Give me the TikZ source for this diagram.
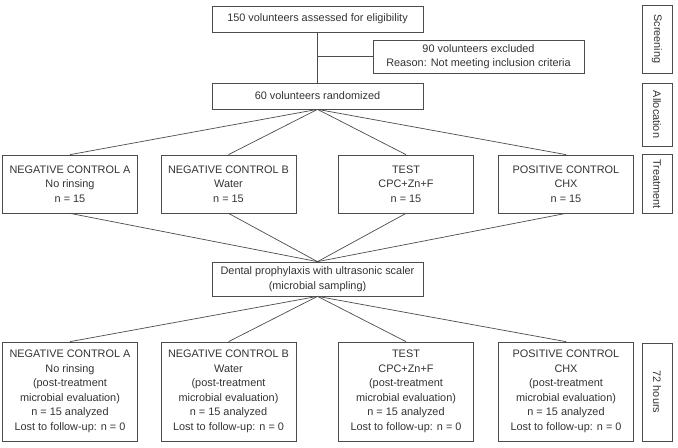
\documentclass[tikz,border=0pt]{standalone}
\usepackage{fontspec}
\setmainfont{Liberation Sans}
\usepackage{tikz}
\usepackage{xcolor}
\usetikzlibrary{shapes.geometric}
\tikzstyle{wide} = [rectangle, minimum width=6.33cm, inner sep=0pt, text centered, draw=black!70, line width=0.6pt, text=black!80]
\tikzstyle{group} = [rectangle, minimum width=4.05cm, inner sep=0pt, text centered, draw=black!70, line width=0.6pt, text=black!80]
\tikzstyle{phase} = [rectangle, rotate=-90, minimum height=0.9cm, inner sep=0pt, text centered, draw=black!70, line width=0.6pt, text=black!80]
\tikzstyle{line} = [draw=black!70, line width=0.6pt]

\begin{document}
\begin{tikzpicture}[x=0.03cm, y=-0.03cm, font=\fontsize{9.3}{12.4}\selectfont]
    \useasboundingbox (0,0) rectangle (678,447);

    \node (eligible) [wide, minimum height=0.78cm, align=center] at (317.5,19) {150 volunteers assessed for eligibility};
    \node (excluded) [wide, minimum height=0.99cm, align=center] at (478.5,56.5) {90 volunteers excluded \\ Reason: Not meeting inclusion criteria};
    \node (randomized) [wide, minimum height=0.78cm, align=center] at (317.5,96) {60 volunteers randomized};

    \node (neg_a) [group, minimum height=1.74cm, align=center] at (70,184) {NEGATIVE CONTROL A \\ No rinsing \\ n = 15};
    \node (neg_b) [group, minimum height=1.74cm, align=center] at (228.5,184) {NEGATIVE CONTROL B \\ Water \\ n = 15};
    \node (test) [group, minimum height=1.74cm, align=center] at (406,184) {TEST \\ CPC+Zn+F \\ n = 15};
    \node (pos) [group, minimum height=1.74cm, align=center] at (566,184) {POSITIVE CONTROL \\ CHX \\ n = 15};

    \node (prophylaxis) [wide, minimum height=1.02cm, align=center] at (317.5,279) {Dental prophylaxis with ultrasonic scaler \\ (microbial sampling)};

    \node (neg_a_72) [group, minimum height=2.97cm, align=center] at (70,391.5) {NEGATIVE CONTROL A \\ No rinsing \\ (post-treatment \\ microbial evaluation) \\ n = 15 analyzed \\ Lost to follow-up: n = 0};
    \node (neg_b_72) [group, minimum height=2.97cm, align=center] at (228.5,391.5) {NEGATIVE CONTROL B \\ Water \\ (post-treatment \\ microbial evaluation) \\ n = 15 analyzed \\ Lost to follow-up: n = 0};
    \node (test_72) [group, minimum height=2.97cm, align=center] at (406,391.5) {TEST \\ CPC+Zn+F \\ (post-treatment \\ microbial evaluation) \\ n = 15 analyzed \\ Lost to follow-up: n = 0};
    \node (pos_72) [group, minimum height=2.97cm, align=center] at (566,391.5) {POSITIVE CONTROL \\ CHX \\ (post-treatment \\ microbial evaluation) \\ n = 15 analyzed \\ Lost to follow-up: n = 0};

    \node (screening) [phase, minimum width=2.04cm] at (657,39) {Screening};
    \node (allocation) [phase, minimum width=1.89cm] at (657,114.5) {Allocation};
    \node (treatment) [phase, minimum width=1.77cm] at (657,184) {Treatment};
    \node (hours) [phase, minimum width=2.94cm] at (657,392) {72 hours};

    \draw [line] (eligible) -- (randomized);
    \draw [line] (excluded.west) -- (excluded.west -| eligible.south);
    \draw [line] (randomized.south) -- (neg_a.north);
    \draw [line] (randomized.south) -- (neg_b.north);
    \draw [line] (randomized.south) -- (test.north);
    \draw [line] (randomized.south) -- (pos.north);
    \draw [line] (neg_a.south) -- (prophylaxis.north);
    \draw [line] (neg_b.south) -- (prophylaxis.north);
    \draw [line] (test.south) -- (prophylaxis.north);
    \draw [line] (pos.south) -- (prophylaxis.north);
    \draw [line] (prophylaxis.south) -- (neg_a_72.north);
    \draw [line] (prophylaxis.south) -- (neg_b_72.north);
    \draw [line] (prophylaxis.south) -- (test_72.north);
    \draw [line] (prophylaxis.south) -- (pos_72.north);
\end{tikzpicture}
\end{document}
